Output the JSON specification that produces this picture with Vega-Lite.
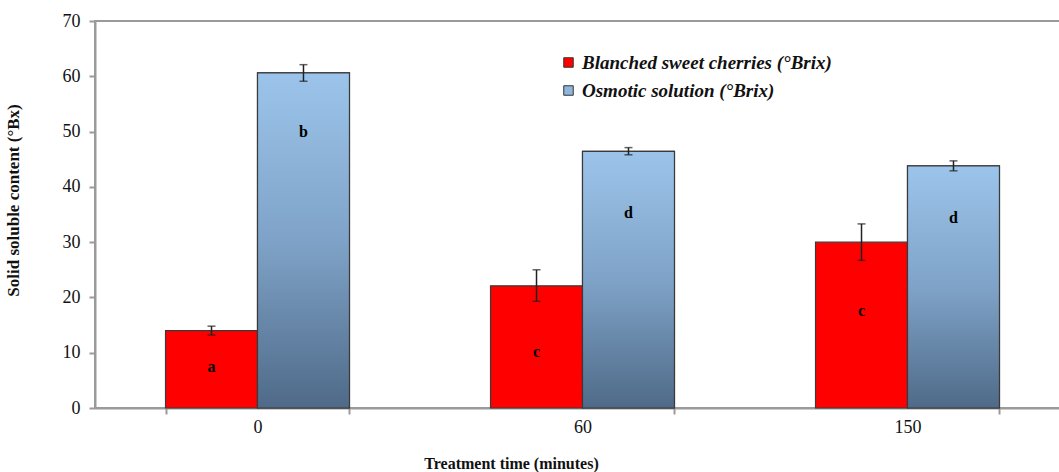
{
  "$schema": "https://vega.github.io/schema/vega-lite/v6.json",
  "autosize": {"type": "none"},
  "padding": {"left": 95, "top": 21, "right": 0, "bottom": 64},
  "width": 975,
  "height": 387,
  "background": "white",
  "config": {
    "font": "Liberation Serif",
    "view": {"stroke": "#9a9a9a", "strokeWidth": 2}
  },
  "data": {
    "values": [
      {"time": "0", "series": "Blanched sweet cherries (°Brix)", "value": 14.0, "lo": 13.2, "hi": 14.8, "letter": "a", "ly": 7.4},
      {"time": "0", "series": "Osmotic solution  (°Brix)", "value": 60.6, "lo": 59.1, "hi": 62.1, "letter": "b", "ly": 49.9},
      {"time": "60", "series": "Blanched sweet cherries (°Brix)", "value": 22.1, "lo": 19.3, "hi": 25.0, "letter": "c", "ly": 10.1},
      {"time": "60", "series": "Osmotic solution  (°Brix)", "value": 46.4, "lo": 45.8, "hi": 47.1, "letter": "d", "ly": 35.3},
      {"time": "150", "series": "Blanched sweet cherries (°Brix)", "value": 30.0, "lo": 26.7, "hi": 33.3, "letter": "c", "ly": 17.5},
      {"time": "150", "series": "Osmotic solution  (°Brix)", "value": 43.8, "lo": 42.9, "hi": 44.7, "letter": "d", "ly": 34.4}
    ]
  },
  "encoding": {
    "x": {
      "field": "time", "type": "nominal", "sort": ["0", "60", "150"],
      "scale": {"paddingInner": 0.434, "paddingOuter": 0.217},
      "axis": {
        "title": "Treatment time (minutes)",
        "titleFont": "Liberation Serif", "titleFontSize": 16, "titleFontWeight": "bold", "titleColor": "#111",
        "titleX": 416, "titleY": 55, "titleAnchor": "middle", "titleBaseline": "middle",
        "labelAngle": 0, "labelFont": "Liberation Serif", "labelFontSize": 18, "labelColor": "#111", "labelPadding": 4,
        "tickBand": "extent", "tickSize": 6, "tickColor": "#9a9a9a", "tickWidth": 2,
        "domainColor": "#9a9a9a", "domainWidth": 2
      }
    },
    "xOffset": {"field": "series", "type": "nominal", "sort": ["Blanched sweet cherries (°Brix)", "Osmotic solution  (°Brix)"], "scale": {"paddingInner": 0, "paddingOuter": 0}}
  },
  "layer": [
    {
      "mark": {"type": "bar", "stroke": "#3a3a3a", "strokeWidth": 1.2},
      "encoding": {
        "y": {
          "field": "value", "type": "quantitative",
          "scale": {"domain": [0, 70], "nice": false},
          "axis": {
            "title": "Solid soluble content (°Bx)",
            "titleFont": "Liberation Serif", "titleFontSize": 17, "titleFontWeight": "bold", "titleColor": "#111",
            "titleX": -73, "titleY": 179,
            "values": [0, 10, 20, 30, 40, 50, 60, 70],
            "labelFont": "Liberation Serif", "labelFontSize": 18, "labelColor": "#111", "labelPadding": 9,
            "grid": false, "tickSize": 6, "tickColor": "#9a9a9a", "tickWidth": 2,
            "domainColor": "#9a9a9a", "domainWidth": 2
          }
        },
        "fill": {
          "field": "series", "type": "nominal",
          "sort": ["Blanched sweet cherries (°Brix)", "Osmotic solution  (°Brix)"],
          "scale": {"range": ["#ff0000", "#8fb6de"]},
          "legend": {
            "title": null, "orient": "none", "legendX": 464, "legendY": 32,
            "symbolType": "square", "symbolSize": 90, "symbolStrokeColor": "#333", "symbolStrokeWidth": 1,
            "labelFont": "Liberation Serif", "labelFontSize": 19, "labelFontStyle": "italic", "labelFontWeight": "bold", "labelColor": "#111",
            "labelLimit": 400, "rowPadding": 8, "labelOffset": 4, "padding": 0
          }
        }
      }
    },
    {
      "transform": [{"filter": "datum.series === 'Osmotic solution  (°Brix)'"}],
      "mark": {
        "type": "bar", "stroke": "#3a3a3a", "strokeWidth": 1.2,
        "fill": {"gradient": "linear", "x1": 0, "y1": 0, "x2": 0, "y2": 1,
          "stops": [{"offset": 0, "color": "#9cc4ea"}, {"offset": 0.5, "color": "#7fa3c8"}, {"offset": 1, "color": "#4f6a88"}]}
      },
      "encoding": {
        "y": {"field": "value", "type": "quantitative"}
      }
    },
    {
      "mark": {"type": "rule", "color": "#222", "strokeWidth": 1.5},
      "encoding": {
        "y": {"field": "lo", "type": "quantitative"},
        "y2": {"field": "hi"}
      }
    },
    {
      "mark": {"type": "tick", "color": "#222", "thickness": 1.5, "size": 8, "orient": "horizontal"},
      "encoding": {"y": {"field": "lo", "type": "quantitative"}}
    },
    {
      "mark": {"type": "tick", "color": "#222", "thickness": 1.5, "size": 8, "orient": "horizontal"},
      "encoding": {"y": {"field": "hi", "type": "quantitative"}}
    },
    {
      "mark": {"type": "text", "font": "Liberation Serif", "fontSize": 16, "fontWeight": "bold", "color": "#000", "baseline": "middle"},
      "encoding": {
        "y": {"field": "ly", "type": "quantitative"},
        "text": {"field": "letter"}
      }
    }
  ]
}
